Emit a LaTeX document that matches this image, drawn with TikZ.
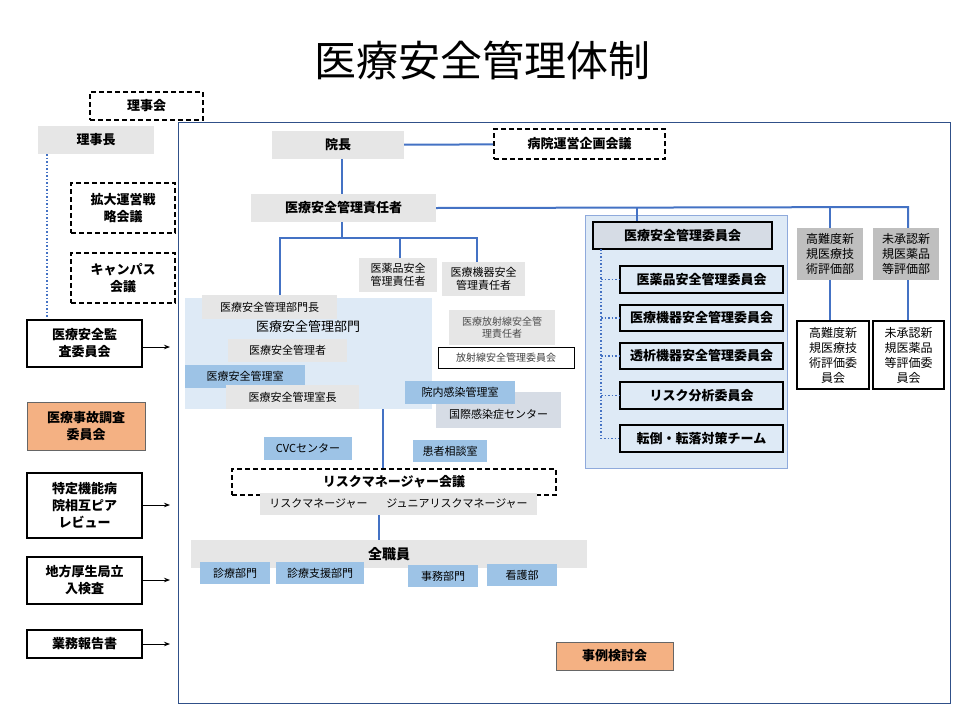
\documentclass[tikz,border=0pt]{standalone}
\usepackage{fontspec}
\setmainfont{Noto Sans CJK JP}
\usetikzlibrary{arrows.meta}
\definecolor{lg}{HTML}{E6E6E6}
\definecolor{dg}{HTML}{BFBFBF}
\definecolor{lb}{HTML}{9DC3E6}
\definecolor{pb}{HTML}{DEEAF6}
\definecolor{pb2}{HTML}{D6DCE5}
\definecolor{og}{HTML}{F4B183}
\definecolor{ln}{HTML}{4472C4}
\tikzset{
 bx/.style={inner sep=1pt,align=center,font=\fontsize{12}{14}\selectfont},
 gbox/.style={bx,fill=lg},
 bbox/.style={bx,fill=lb},
 dbox/.style={bx,draw=black,line width=1.6pt,dash pattern=on 5pt off 3pt,font=\bfseries\fontsize{13}{17}\selectfont},
 sbox/.style={bx,draw=black,line width=1.4pt,font=\bfseries\fontsize{13}{17}\selectfont},
 obox/.style={bx,fill=og,draw=black!60,font=\bfseries\fontsize{13}{17}\selectfont},
 conn/.style={ln,line width=2pt},
 dconn/.style={ln,line width=1.5pt,dotted},
 arr/.style={-{Stealth[length=6pt]},line width=0.8pt},
}
\newcommand{\bx}[7]{\node[#6,minimum width={(#4-#2)*1pt},minimum height={(#5-#3)*1pt}] (#1) at ({(#2+#4)/2},{(#3+#5)/2}) {#7};}
\begin{document}
\begin{tikzpicture}[x=1pt,y=-1pt]
\useasboundingbox (0,0) rectangle (960,720);
\fill[white] (0,0) rectangle (960,720);
\node[font=\fontsize{42}{48}\selectfont] (title) at (482,60) {医療安全管理体制};
\draw[ln!70!black,line width=0.7pt] (178,122) rectangle (950,703);
% left column
\bx{rijikai}{90}{92}{203}{120}{dbox}{理事会}
\bx{rijicho}{38}{126}{154}{154}{gbox,font=\bfseries\fontsize{13}{17}\selectfont}{理事長}
\bx{kakudai}{71}{183}{175}{233}{dbox}{拡大運営戦\\略会議}
\bx{campus}{71}{253}{175}{303}{dbox}{キャンパス\\会議}
\bx{kansa}{27}{320}{142}{367}{sbox}{医療安全監\\査委員会}
\bx{jiko}{27}{402}{145}{450}{obox}{医療事故調査\\委員会}
\bx{peer}{27}{473}{142}{538}{sbox}{特定機能病\\院相互ピア\\レビュー}
\bx{chiho}{27}{557}{142}{604}{sbox}{地方厚生局立\\入検査}
\bx{gyomu}{27}{630}{142}{658}{sbox}{業務報告書}
\coordinate (dk) at (47,318);
\draw[dconn] (rijicho.south -| dk) -- (dk);
\coordinate (a1) at (170,347); \draw[arr] (kansa.east |- a1) -- (a1);
\coordinate (a2) at (170,505); \draw[arr] (peer.east |- a2) -- (a2);
\coordinate (a3) at (170,580); \draw[arr] (chiho.east |- a3) -- (a3);
\coordinate (a4) at (170,644); \draw[arr] (gyomu.east |- a4) -- (a4);
% top
\bx{incho}{272}{131}{404}{159}{gbox,font=\bfseries\fontsize{13}{17}\selectfont}{院長}
\bx{unei}{494}{129}{665}{159}{dbox}{病院運営企画会議}
\draw[conn] (incho) -- (unei);
\bx{resp}{251}{194}{436}{222}{gbox,font=\bfseries\fontsize{13}{17}\selectfont}{医療安全管理責任者}
\draw[conn] (incho.south -| 342,0) -- (resp.north -| 342,0);
% committee panel
\fill[pb] (585,215) rectangle (787,468);
\draw[ln!60,line width=0.6pt] (585,215) rectangle (787,468);
\bx{iinkai}{593}{222}{772}{249}{sbox,fill=pb2}{医療安全管理委員会}
\bx{c1}{620}{266}{783}{293}{sbox}{医薬品安全管理委員会}
\bx{c2}{620}{305}{783}{331}{sbox}{医療機器安全管理委員会}
\bx{c3}{620}{343}{783}{369}{sbox}{透析機器安全管理委員会}
\bx{c4}{620}{382}{783}{409}{sbox}{リスク分析委員会}
\bx{c5}{620}{425}{783}{452}{sbox}{転倒・転落対策チーム}
\coordinate (dt) at (601,249);
\draw[dconn] (dt) -- (dt |- c5.west) -- (c5.west);
\foreach \c in {c1,c2,c3,c4} \draw[dconn] (dt |- \c.west) -- (\c.west);
\bx{konan}{797}{228}{863}{280}{bx,fill=dg,font=\fontsize{12}{15}\selectfont}{高難度新\\規医療技\\術評価部}
\bx{misho}{873}{228}{939}{280}{bx,fill=dg,font=\fontsize{12}{15}\selectfont}{未承認新\\規医薬品\\等評価部}
\bx{konanI}{797}{321}{869}{389}{sbox,font=\fontsize{12}{15}\selectfont}{高難度新\\規医療技\\術評価委\\員会}
\bx{mishoI}{873}{321}{944}{389}{sbox,font=\fontsize{12}{15}\selectfont}{未承認新\\規医薬品\\等評価委\\員会}
\coordinate (r1) at (637,207); \coordinate (r2) at (830,207); \coordinate (r3) at (908,207);
\draw[conn] (resp.east) -- (r3) -- (r3 |- misho.north);
\draw[conn] (r1) -- (r1 |- iinkai.north);
\draw[conn] (r2) -- (r2 |- konan.north);
\draw[conn] (konan.south -| r2) -- (konanI.north -| r2);
\draw[conn] (misho.south -| r3) -- (mishoI.north -| r3);
% department
\fill[pb] (185,298) rectangle (432,409);
\bx{yakuhin}{359}{258}{437}{292}{gbox,font=\fontsize{11}{13}\selectfont}{医薬品安全\\管理責任者}
\bx{kiki}{442}{262}{525}{296}{gbox,font=\fontsize{11}{13}\selectfont}{医療機器安全\\管理責任者}
\coordinate (b0) at (342,238); \coordinate (b1) at (280,238); \coordinate (b3) at (477,238);
\draw[conn] (resp.south -| b0) -- (b0);
\draw[conn] (280,298) -- (b1) -- (b3) -- (b3 |- kiki.north);
\draw[conn] (400,238) -- (yakuhin.north -| 400,0);
\bx{bucho}{202}{295}{337}{319}{gbox,font=\fontsize{11}{13}\selectfont}{医療安全管理部門長}
\node[bx,font=\fontsize{13}{15}\selectfont] (bumon) at (308,327) {医療安全管理部門};
\bx{kanrisha}{228}{339}{347}{362}{gbox,font=\fontsize{11}{13}\selectfont}{医療安全管理者}
\bx{shitsu}{185}{365}{305}{388}{bbox,font=\fontsize{11}{13}\selectfont}{医療安全管理室}
\bx{shitsucho}{226}{385}{359}{409}{gbox,font=\fontsize{11}{13}\selectfont}{医療安全管理室長}
\bx{hosha}{449}{310}{555}{345}{gbox,text=black!70,font=\fontsize{10}{12}\selectfont}{医療放射線安全管\\理責任者}
\bx{hoshaI}{438}{347}{574}{368}{bx,draw=black,line width=0.6pt,text=black!75,font=\fontsize{10}{12}\selectfont}{放射線安全管理委員会}
\bx{kokusai}{436}{392}{561}{428}{bx,fill=pb2,font=\fontsize{11}{13}\selectfont}{\\[-2pt]\hspace*{0pt}\raisebox{-6pt}{国際感染症センター}}
\bx{innai}{405}{381}{515}{404}{bbox,font=\fontsize{11}{13}\selectfont}{院内感染管理室}
\bx{cvc}{264}{437}{352}{460}{bbox,font=\fontsize{11}{13}\selectfont}{CVCセンター}
\bx{kanja}{413}{440}{487}{462}{bbox,font=\fontsize{11}{13}\selectfont}{患者相談室}
\bx{rmk}{232}{469}{556}{495}{dbox}{リスクマネージャー会議}
\draw[conn] (383,409) -- (rmk.north -| 383,0);
\bx{rm}{260}{493}{377}{515}{gbox,font=\fontsize{11}{13}\selectfont}{リスクマネージャー}
\bx{jrm}{377}{493}{537}{515}{gbox,font=\fontsize{11}{13}\selectfont}{ジュニアリスクマネージャー}
\bx{zen}{191}{540}{587}{568}{gbox,font=\bfseries\fontsize{14}{17}\selectfont}{全職員}
\draw[conn] (rm.south -| 379,0) -- (zen.north -| 379,0);
\bx{shinryo}{200}{562}{270}{584}{bbox,font=\fontsize{11}{13}\selectfont}{診療部門}
\bx{shien}{276}{562}{364}{584}{bbox,font=\fontsize{11}{13}\selectfont}{診療支援部門}
\bx{jimu}{408}{565}{478}{587}{bbox,font=\fontsize{11}{13}\selectfont}{事務部門}
\bx{kango}{487}{564}{557}{586}{bbox,font=\fontsize{11}{13}\selectfont}{看護部}
\bx{jirei}{556}{642}{673}{670}{obox}{事例検討会}
\end{tikzpicture}
\end{document}
